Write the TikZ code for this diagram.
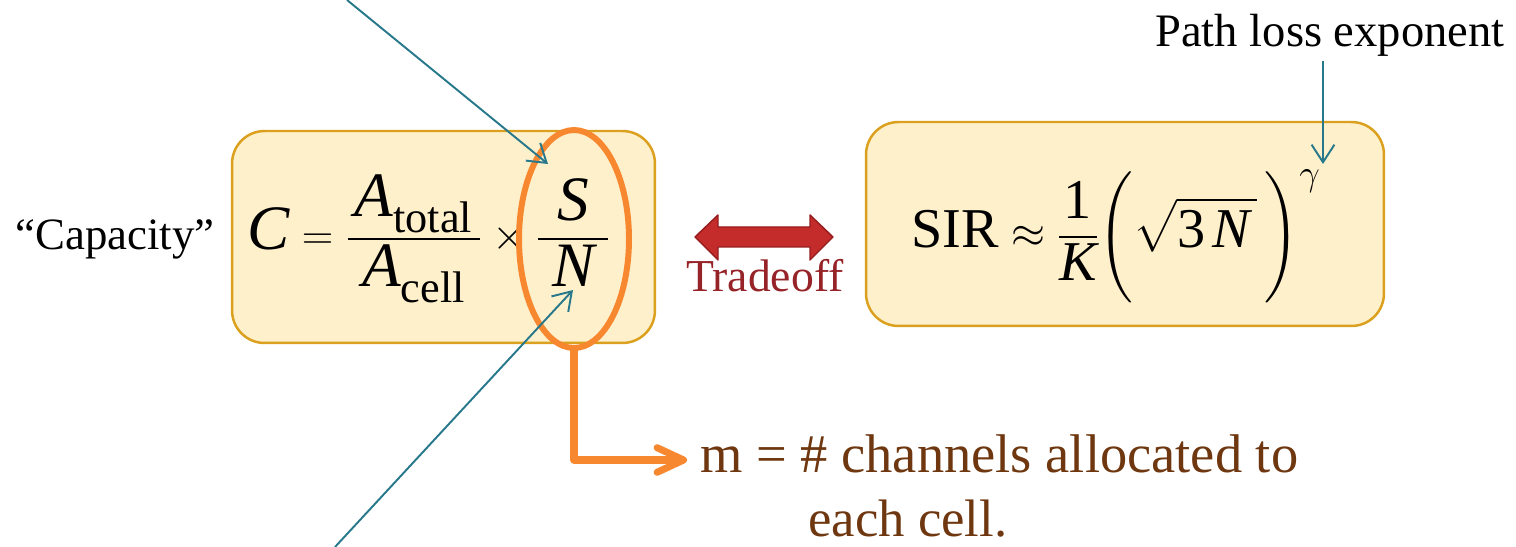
\documentclass[tikz,border=0pt]{standalone}
\usepackage{amsmath}
\usepackage{fontspec}
\setmainfont{LiberationSerif}[Extension=.ttf, UprightFont=*-Regular, ItalicFont=*-Italic, BoldFont=*-Bold, BoldItalicFont=*-BoldItalic]
\usepackage{xcolor}
\usepackage{tikz}
\usetikzlibrary{arrows.meta,shapes.geometric}

\definecolor{boxfill}{RGB}{255,240,204}
\definecolor{boxline}{RGB}{218,160,30}
\definecolor{ovalline}{RGB}{247,136,48}
\definecolor{pointer}{RGB}{40,120,140}
\definecolor{tradefill}{RGB}{196,44,44}
\definecolor{tradeline}{RGB}{150,28,28}
\definecolor{tradetext}{RGB}{150,35,40}
\definecolor{notebrown}{RGB}{110,55,15}

\newcommand{\vA}{\mathit{A}}
\newcommand{\pad}{\hspace{8pt}}

\begin{document}
\begin{tikzpicture}[x=0.02cm, y=-0.02cm,
    fbox/.style={draw=boxline, fill=boxfill, line width=1.4pt, rounded corners=0.65cm, minimum width=#1},
    formula/.style={inner sep=0pt, anchor=base, font=\fontsize{#1}{#1}\selectfont},
    txt/.style={inner sep=0pt, anchor=base, font=\fontsize{#1}{#1}\selectfont},
    pointer/.style={draw=pointer, line width=1.1pt, -{Straight Barb[length=10pt,width=13pt]}},
    oval/.style={draw=ovalline, line width=3.4pt, ellipse, inner sep=0pt}
]
% frame of the slide region
\useasboundingbox (0,0) rectangle (1516,547);

% the two formula boxes
\node[fbox=8.46cm, minimum height=4.24cm] (capbox) at (443.5,237) {};
\node[fbox=10.36cm, minimum height=4.08cm] (sirbox) at (1125,224) {};

% capacity and SIR
\node[txt=25.5] (caplabel) at (115,250) {``Capacity''};
\node[formula=36] (capeq) at (429,250) {$\displaystyle \mathit{C}=\frac{\,\vA_{\mathrm{total}}\,}{\vA_{\mathrm{cell}}}\times\frac{\pad\mathit{S}\pad}{\pad\mathit{N}\pad}$};
\node[formula=32] (sireq) at (1116,248) {$\displaystyle \mathrm{SIR}\approx\frac{\mathrm{1}}{\mathit{K}}\Biggl(\sqrt{\mathrm{3}\,\mathit{N}\,}\,\Biggr)^{\gamma}$};

% S/N marked by the oval
\node[oval, minimum width=2.2cm, minimum height=4.36cm] (sn) at (574,239) {};

% tradeoff arrow
\draw[fill=tradefill, draw=tradeline, line width=0.8pt, line join=round]
  (695,237) -- (718,215) -- (718,227) -- (810,227) -- (810,215) -- (833,237)
  -- (810,260) -- (810,247) -- (718,247) -- (718,260) -- cycle;
\node[txt=26, text=tradetext] (trade) at (765,292) {Tradeoff};

% note on m
\node[txt=31, text=notebrown, anchor=base west] (mline) at (700,473) {m = \# channels allocated to};
\node[txt=30, text=notebrown, anchor=base west] (mcell) at (808,537) {each cell.};
\coordinate (mtip) at (687,460);
\draw[ovalline, line width=4pt, line cap=round, line join=round,
  -{Straight Barb[length=15pt,width=14pt,line cap=round,line join=round]}] (sn.south) |- (mtip);

% path loss exponent
\node[txt=26.5] (ploss) at (1330,47) {Path loss exponent};
\coordinate (gtip) at (1323,164);
\draw[pointer] (ploss.south -| gtip) ++(0,4) -- (gtip);

% pointers into S and N from off the slide
\coordinate (sfrom) at (347,0);
\coordinate (stip) at (548,164);
\draw[pointer] (sfrom) -- (stip);
\coordinate (nfrom) at (335,547);
\coordinate (ntip) at (573,290);
\draw[pointer] (nfrom) -- (ntip);
\end{tikzpicture}
\end{document}
